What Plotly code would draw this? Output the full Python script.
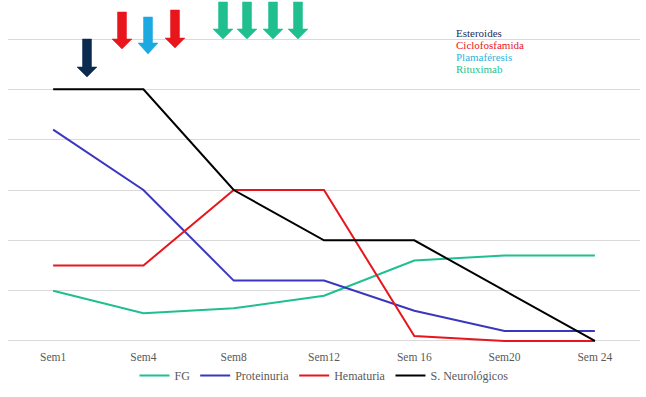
import plotly.graph_objects as go

categories = ["Sem1", "Sem4", "Sem8", "Sem12", "Sem 16", "Sem20", "Sem 24"]
fg = [1.0, 0.55, 0.65, 0.9, 1.6, 1.7, 1.7]
proteinuria = [4.2, 3.0, 1.2, 1.2, 0.6, 0.2, 0.2]
hematuria = [1.5, 1.5, 3.0, 3.0, 0.1, 0.0, 0.0]
neuro = [5, 5, 3, 2, 2, 1, 0]

series_names = ["FG", "Proteinuria", "Hematuria", "S. Neurológicos"]
series_colors = ["#1fbf8f", "#3a36c0", "#e8161c", "#000000"]

treat_labels = ["Esteroides", "Ciclofosfamida", "Plamaféresis", "Rituximab"]
treat_colors = ["#1f2d5c", "#e8161c", "#2fb4dc", "#1fbf8f"]

# arrows: (center px, top px, head start px, tip px, color)
arrows = [
    (87, 39, 67, 77, "#0b2a4f"),
    (122, 12, 39, 49, "#e8161c"),
    (148, 17, 43, 54, "#1aa9e0"),
    (175, 10, 38, 48, "#e8161c"),
    (223, 2, 29, 39, "#1fbf8f"),
    (247, 2, 29, 39, "#1fbf8f"),
    (273, 2, 29, 39, "#1fbf8f"),
    (298, 2, 29, 39, "#1fbf8f"),
]

W, H = 646, 397
L, R, T, B = 8, 6, 38, 55
pw, ph = W - L - R, H - T - B

def px(x):
    return (x - L) / pw

def py(y):
    return (H - B - y) / ph

fig = go.Figure()
for name, vals, col in zip(series_names, [fg, proteinuria, hematuria, neuro], series_colors):
    fig.add_trace(go.Scatter(x=categories, y=vals, mode="lines", name=name,
                             line=dict(color=col, width=2)))

shapes = []
for cx, top, hs, tip, col in arrows:
    sw, hw = 4.5, 10
    pts = [(cx - sw, top), (cx + sw, top), (cx + sw, hs), (cx + hw, hs),
           (cx, tip), (cx - hw, hs), (cx - sw, hs)]
    path = "M " + " L ".join(f"{px(x):.5f},{py(y):.5f}" for x, y in pts) + " Z"
    shapes.append(dict(type="path", path=path, xref="paper", yref="paper",
                       fillcolor=col, line=dict(color=col, width=0.5), layer="above"))

annotations = []
for i, (lab, col) in enumerate(zip(treat_labels, treat_colors)):
    annotations.append(dict(text=lab, x=px(454), y=py(33 + 12 * i), xref="paper", yref="paper",
                            xanchor="left", yanchor="middle", showarrow=False,
                            font=dict(family="Liberation Serif", size=11, color=col)))

fig.update_layout(
    width=W, height=H,
    margin=dict(l=L, r=R, t=T, b=B, autoexpand=False),
    paper_bgcolor="white", plot_bgcolor="white",
    shapes=shapes, annotations=annotations,
    font=dict(family="Liberation Serif", size=11, color="#595959"),
    legend=dict(orientation="h", x=0.5, xanchor="center", y=py(361), yanchor="top",
                font=dict(family="Liberation Serif", size=12, color="#595959"),
                itemwidth=30, tracegroupgap=0),
    xaxis=dict(type="category", range=[-0.5, 6.5], showgrid=False, showline=False, ticks="",
               ticklabelstandoff=6,
               tickfont=dict(family="Liberation Serif", size=11.5, color="#595959")),
    yaxis=dict(range=[-0.02, 6.02], dtick=1, showticklabels=False, showgrid=True,
               gridcolor="#d9d9d9", gridwidth=1, zeroline=False, showline=False),
)

fig.write_html("out.html", config={"displayModeBar": False},
               post_script="document.body.style.margin='0px';")
